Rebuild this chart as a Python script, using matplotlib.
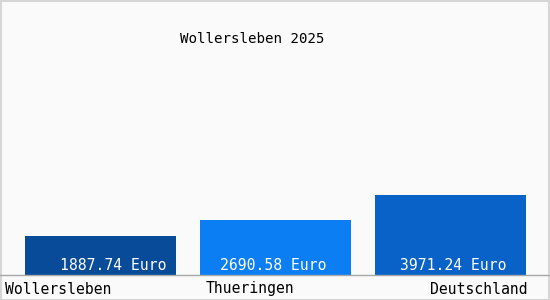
import matplotlib
matplotlib.use("Agg")
import matplotlib.pyplot as plt
from matplotlib.patches import Rectangle

title = "Wollersleben 2025"
regions = ["Wollersleben", "Thueringen", "Deutschland"]
values = [1887.74, 2690.58, 3971.24]
colors = ["#084b98", "#0b7ef4", "#0862c8"]

W, H = 550, 300
fig = plt.figure(figsize=(W / 100, H / 100), dpi=100)
fig.patch.set_facecolor("#fafafa")

# axes in pixel-ish units: x 0..550, bottom of plot at 275 px from top
base_px = 274.5
ax = fig.add_axes([0, (H - base_px) / H, 1, base_px / H])
ax.set_facecolor("none")
scale = 3971.24 / 80.0  # euro per pixel
ax.set_xlim(0, W)
ax.set_ylim(0, base_px * scale)
ax.axis("off")

font = "DejaVu Sans Mono"
centers = [100.5, 275.5, 450.5]
ax.bar(centers, values, width=151, color=colors, linewidth=0)

val_x = [113.5, 273, 453]
for x, v in zip(val_x, values):
    ax.text(x, 2 * scale, f"{v:.2f} Euro", ha="center", va="bottom",
            color="white", fontsize=10.6, family=font)

# baseline
fig.add_artist(plt.Line2D([0, 1], [(H - base_px) / H] * 2, color="#a8a8a8", lw=1))

# category labels
fig.text(5 / W, 1 - 289 / H, regions[0], ha="left", va="center", fontsize=10.6, family=font)
fig.text(249.5 / W, 1 - 289 / H, regions[1], ha="center", va="center", fontsize=10.6, family=font)
fig.text(528 / W, 1 - 289 / H, regions[2], ha="right", va="center", fontsize=10.6, family=font)

fig.text(252.5 / W, 1 - 39 / H, title, ha="center", va="center", fontsize=10.2, family=font)

# light border
fig.add_artist(Rectangle((0.5 / W, 0.5 / H), 1 - 1.5 / W, 1 - 1.5 / H, transform=fig.transFigure,
                         fill=False, edgecolor="#d6d6d6", lw=1.5))

fig.savefig("out.png", dpi=100, facecolor=fig.get_facecolor())
